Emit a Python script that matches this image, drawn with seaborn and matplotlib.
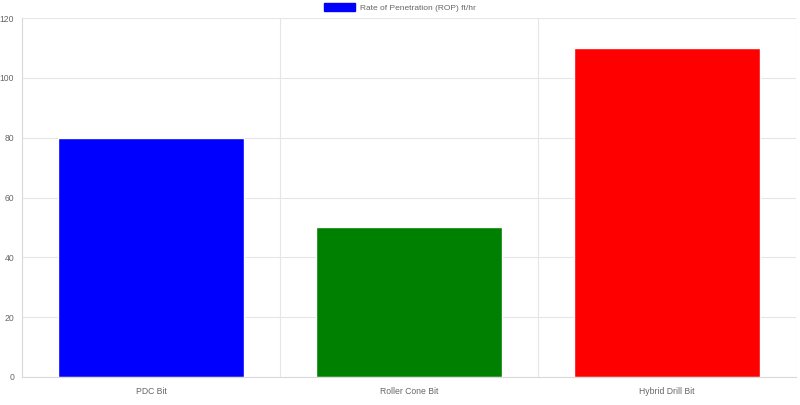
import matplotlib
matplotlib.use("Agg")
import matplotlib.pyplot as plt
import seaborn as sns
import pandas as pd
from matplotlib.patches import Patch

categories = ["PDC Bit", "Roller Cone Bit", "Hybrid Drill Bit"]
rop_values = [80, 50, 110]
bar_colors = ["#0000ff", "#008000", "#ff0000"]
series_label = "Rate of Penetration (ROP) ft/hr"
y_ticks = [0, 20, 40, 60, 80, 100, 120]

sns.set_theme(style="white")
plt.rcParams['font.family'] = ['Liberation Sans', 'DejaVu Sans']

df = pd.DataFrame({"bit": categories, "rop": rop_values})

fig = plt.figure(figsize=(8, 4.05), dpi=100)
ax = fig.add_axes([22/800, 1 - 377/405, (796 - 22)/800, (377 - 18)/405])

sns.barplot(data=df, x="bit", y="rop", hue="bit", palette=bar_colors,
            width=0.72, saturation=1, legend=False, ax=ax)

ax.set_xlim(-0.5, 2.5)
ax.set_ylim(0, 120)
ax.set_yticks(y_ticks)
ax.set_xlabel("")
ax.set_ylabel("")
grid_c = "#e6e6e6"
ax.set_xticks([-0.5, 0.5, 1.5, 2.5], minor=True)
ax.grid(True, which="minor", axis="x", color=grid_c, linewidth=0.8)
ax.grid(True, which="major", axis="y", color=grid_c, linewidth=0.8)
ax.set_axisbelow(True)
for s in ["top", "right"]:
    ax.spines[s].set_visible(False)
for s in ["left", "bottom"]:
    ax.spines[s].set_color("#d9d9d9")
    ax.spines[s].set_linewidth(0.8)
ax.tick_params(axis="y", which="major", length=4, color=grid_c, labelsize=6.2, labelcolor="#666666", pad=1.5)
ax.tick_params(axis="x", which="major", length=0, labelsize=6.2, labelcolor="#666666", pad=7)
ax.tick_params(axis="x", which="minor", length=4, color=grid_c)

handle = Patch(facecolor="#0000ff", edgecolor="#0000ff")
fig.legend(handles=[handle], labels=[series_label], loc="upper center",
           bbox_to_anchor=(0.5, 1.01), frameon=False, fontsize=6.0,
           labelcolor="#666666", handlelength=3.8, handleheight=1.0,
           handletextpad=0.6)

fig.savefig("out.png", dpi=100)
